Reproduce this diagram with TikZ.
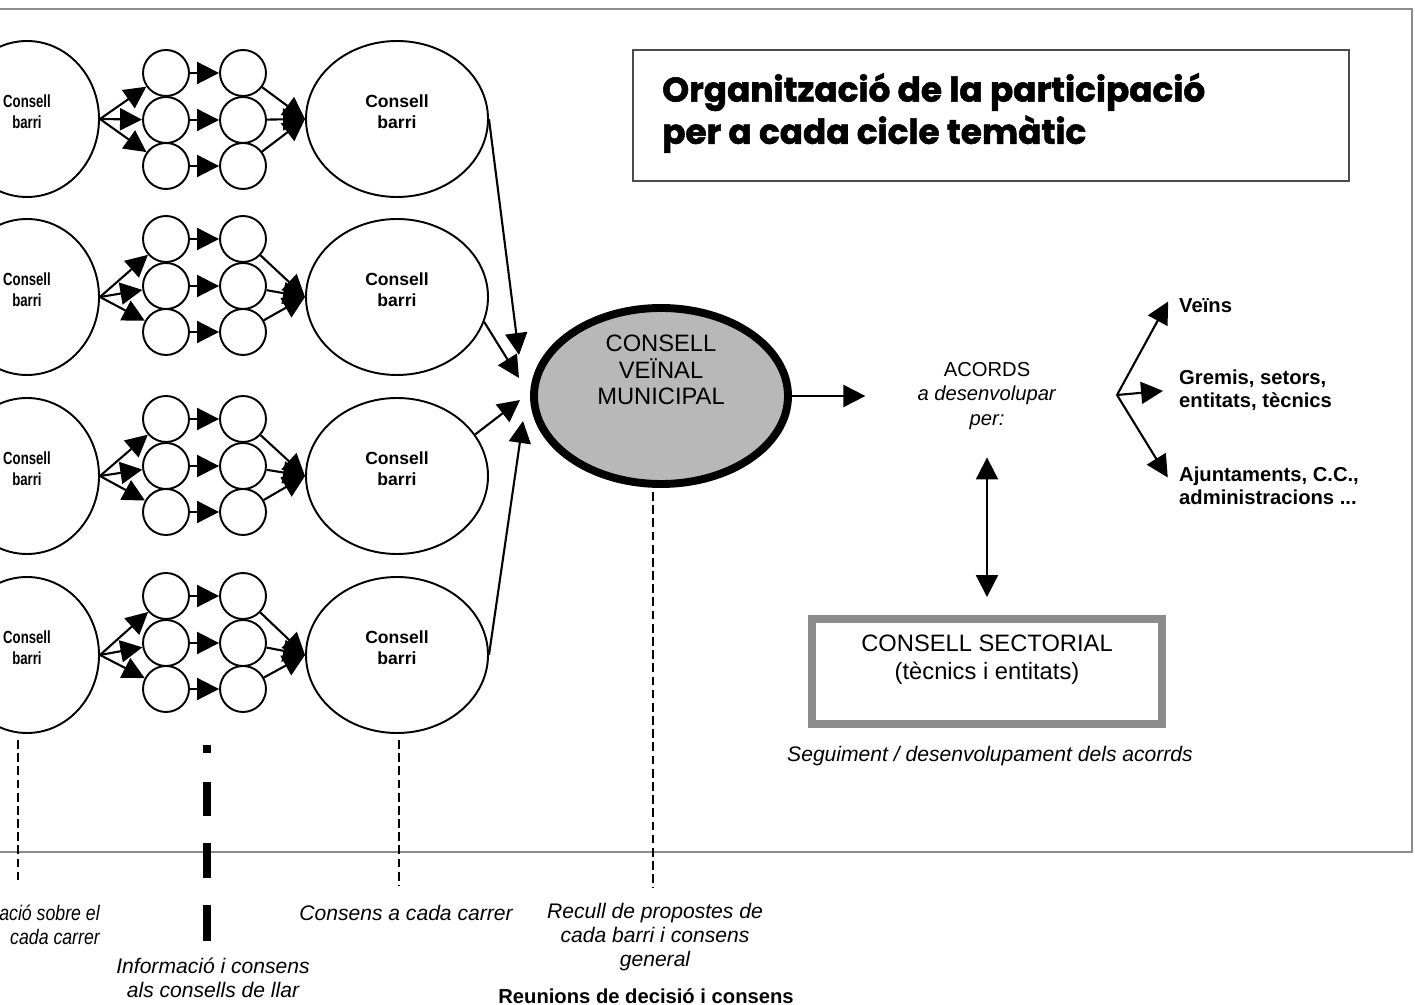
\documentclass[tikz,border=0pt]{standalone}
\usepackage{fontspec}
\setmainfont{Liberation Sans}
\newfontfamily\narrowfont{Liberation Sans}[FakeStretch=0.75]
\newfontfamily\capfont{Liberation Sans}[FakeStretch=0.84]
\newfontfamily\titlefont{Poppins}[BoldFeatures={FakeBold=1.6}]
\usetikzlibrary{arrows.meta,positioning,shapes.geometric}

\tikzset{
  barri/.style={ellipse,draw,line width=1.1pt,inner sep=0pt,minimum width=36.4mm,minimum height=31.2mm,
    align=center,text depth=2.8mm,font=\bfseries\fontsize{10}{12}\selectfont},
  barrileft/.style={barri,minimum width=28.8mm,font=\narrowfont\bfseries\fontsize{10}{12}\selectfont},
  llar/.style={circle,draw,line width=1.1pt,minimum size=9.2mm,inner sep=0pt},
  arr/.style={-{Triangle[length=12.5pt,width=12.5pt]},line width=1.2pt},
  guide/.style={line width=0.9pt,dash pattern=on 5pt off 2.5pt},
  caption/.style={align=center,font=\itshape\fontsize{12}{13.7}\selectfont},
  rightlab/.style={anchor=west,align=left,font=\bfseries\fontsize{11.5}{12.8}\selectfont},
}

\begin{document}
\begin{tikzpicture}[x=0.2mm,y=-0.2mm]
  \clip (0,0) rectangle (1415,1005);

  % outer frame
  \draw[black!45,line width=1.1pt] (0,9) -- (1412,9) -- (1412,852) -- (0,852);

  % title
  \node[draw=black!70,line width=0.6pt,minimum width=143.2mm,minimum height=26.2mm] (titlebox) at (991,115.5) {};
  \node[anchor=west,align=left,font=\titlefont\bfseries\fontsize{19.5}{24}\selectfont] (title) at (656,113)
    {Organització de la participació\\per a cada cicle temàtic};

  % four streets: barri -> llars -> barri
  \foreach \r/\y/\c in {1/119/120,2/297/286,3/476/466,4/655/643}{
    \node[barrileft] (L\r) at (27,\y) {Consell\\barri};
    \node[barri] (R\r) at (397,\y) {Consell\\barri};
    \node[llar] (a\r1) at (166,\c-47) {};
    \node[llar] (a\r2) at (166,\c) {};
    \node[llar] (a\r3) at (166,\c+46) {};
    \node[llar] (b\r1) at (243,\c-47) {};
    \node[llar] (b\r2) at (243,\c) {};
    \node[llar] (b\r3) at (243,\c+46) {};
    \foreach \k in {1,2,3}{
      \draw[arr] (L\r.east) -- (a\r\k);
      \draw[arr] (a\r\k) -- (b\r\k);
      \draw[arr] (b\r\k) -- (R\r.west);
    }
  }

  % consell veinal municipal
  \node[ellipse,draw,line width=4.5pt,fill=black!28,minimum width=50.8mm,minimum height=35.2mm] (C) at (661,396) {};
  \node[align=center,font=\fontsize{13.5}{15}\selectfont] (Ctxt) at (661,370) {CONSELL\\VEÏNAL\\MUNICIPAL};
  \coordinate (in1) at (519,355);
  \coordinate (in2) at (519,378);
  \coordinate (in3) at (520,400);
  \coordinate (in4) at (523,421);
  \draw[arr] (R1.east) -- (in1);
  \draw[arr] (R2.-16) -- (in2);
  \draw[arr] (R3.28) -- (in3);
  \draw[arr] (R4.east) -- (in4);

  % acords
  \node[align=center,font=\fontsize{11.5}{13.7}\selectfont] (acords) at (987,396)
    {ACORDS\\\textit{a desenvolupar}\\\textit{per:}};
  \draw[arr,shorten >=9.2mm] (C.east) -- (acords.west);

  \coordinate (fork) at (1117,395);
  \node[rightlab] (veins) at (1173,306) {Veïns};
  \node[rightlab] (gremis) at (1173,390) {Gremis, setors,\\entitats, tècnics};
  \node[rightlab] (ajunt) at (1173,486) {Ajuntaments, C.C.,\\administracions ...};
  \draw[arr,shorten >=2mm] (fork) -- (veins.north west);
  \draw[arr,shorten >=2mm] (fork) -- (gremis.west);
  \draw[arr,shorten >=2mm] (fork) -- (ajunt.west);

  % consell sectorial
  \node[draw=black!45,line width=4.5pt,minimum width=70mm,minimum height=21mm] (sect) at (987,671.5) {};
  \node[align=center,font=\fontsize{13.5}{16}\selectfont] (secttxt) at (987,660)
    {CONSELL SECTORIAL\\(tècnics i entitats)};
  \draw[{Triangle[length=12.5pt,width=12.5pt]}-{Triangle[length=12.5pt,width=12.5pt]},line width=1.2pt,
    shorten <=4.4mm,shorten >=3.6mm] (acords.south) -- (sect.north);
  \node[caption] (seg) at (990,756) {Seguiment / desenvolupament dels acorrds};

  % guide lines to captions
  \coordinate (g1a) at (18,740);  \coordinate (g1b) at (18,880);
  \coordinate (g2a) at (207,745); \coordinate (g2b) at (207,941);
  \coordinate (g3a) at (399,740); \coordinate (g3b) at (399,885);
  \coordinate (g4a) at (653,492); \coordinate (g4b) at (653,888);
  \draw[guide] (g1a) -- (g1b);
  \draw[line width=5pt,dash pattern=on 4.55pt off 16.5pt on 19.3pt off 15.4pt on 19.9pt off 15.4pt on 20.5pt off 50pt] (g2a) -- (g2b);
  \draw[guide] (g3a) -- (g3b);
  \draw[guide] (g4a) -- (g4b);

  % captions
  \node[caption,anchor=east,align=right,font=\capfont\itshape\fontsize{12}{13.7}\selectfont] (capA) at (106,925)
    {ació sobre el\\cada carrer};
  \node[caption] (capB) at (213,978) {Informació i consens\\als consells de llar};
  \node[caption] (capC) at (406,913) {Consens a cada carrer};
  \node[caption] (capD) at (655,937) {Recull de propostes de\\cada barri i consens\\general};
  \node[font=\bfseries\fontsize{11.5}{14}\selectfont] (capE) at (646,996) {Reunions de decisió i consens};

\end{tikzpicture}
\end{document}
